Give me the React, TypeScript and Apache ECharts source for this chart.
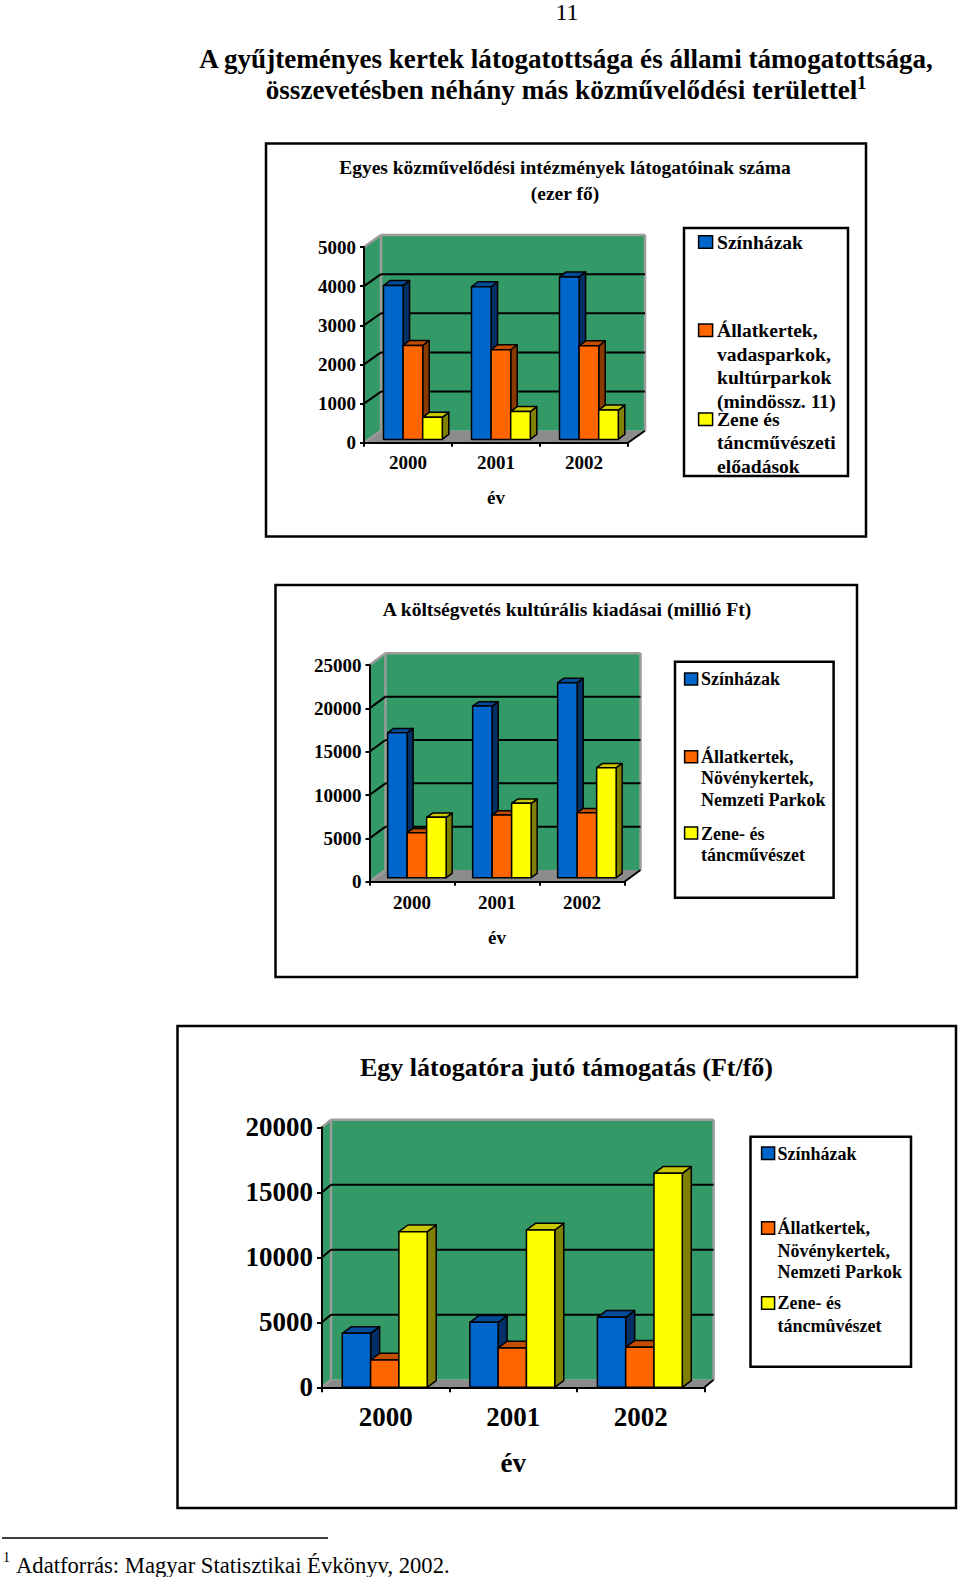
import React, { useEffect, useRef } from "react";
import * as echarts from "echarts";

const years = ["2000", "2001", "2002"];

const visitorsTheatres = [3930, 3900, 4150];
const visitorsZoos = [2400, 2290, 2390];
const visitorsMusic = [565, 710, 750];

const budgetTheatres = [16730, 19800, 22500];
const budgetZoos = [5190, 7230, 7500];
const budgetMusic = [6960, 8580, 12690];

const perVisitorTheatres = [4150, 5000, 5385];
const perVisitorZoos = [2100, 3030, 3080];
const perVisitorMusic = [11970, 12100, 16460];

const legend1 = [["Színházak"], ["Állatkertek,", "vadasparkok,", "kultúrparkok", "(mindössz. 11)"], ["Zene és", "táncművészeti", "előadások"]];
const legend2 = [["Színházak"], ["Állatkertek,", "Növénykertek,", "Nemzeti Parkok"], ["Zene- és", "táncművészet"]];
const legend3 = [["Színházak"], ["Állatkertek,", "Növénykertek,", "Nemzeti Parkok"], ["Zene- és", "táncmûvészet"]];

const SERIF = "Liberation Serif";
const FRONT = ["#0066cc", "#ff6600", "#ffff00"];
const TOP = ["#004c99", "#c24e00", "#c8c800"];
const SIDE = ["#003066", "#8a3a00", "#808000"];
const GREEN = "#339966";
const GRAY = "#8c8c8c";
const EDGE = "#9c9c9c";

const charts = [
  {
    box: [266, 143.5, 600, 393], title: "Egyes közművelődési intézmények látogatóinak száma\n(ezer fő)",
    titleX: 565, titleY: 154, titleSize: 19.5, titleLH: 26,
    grid: [364, 247, 264, 195.7], max: 5000, step: 1000, depth: [17, 12], shift: [4.9, 3.3], barW: 19.6, barD: [6.5, 5],
    axisSize: 19, labelGap: 10, nameGap: 45, tick: 4, lw: 2,
    values: [visitorsTheatres, visitorsZoos, visitorsMusic],
    legendBox: [684, 228, 164, 248], legendText: legend1, legendX: 717, legendSize: 19.6, swatchX: 698.6, swatchS: [14, 12.5],
    swatchY: [235.7, 324, 413], lineY: [[242], [330.5, 354.5, 377.5, 401.5], [419, 442.5, 466]],
  },
  {
    box: [275.5, 585, 581.5, 392], title: "A költségvetés kultúrális kiadásai (millió Ft)",
    titleX: 567, titleY: 597, titleSize: 19.6, titleLH: 24,
    grid: [369.5, 665, 255, 216.7], max: 25000, step: 5000, depth: [16, 11.7], shift: [4.9, 4], barW: 19.5, barD: [6, 4.3],
    axisSize: 19, labelGap: 11, nameGap: 46, tick: 4, lw: 2,
    values: [budgetTheatres, budgetZoos, budgetMusic],
    legendBox: [675, 661.7, 158.6, 236], legendText: legend2, legendX: 701, legendSize: 18, swatchX: 684.6, swatchS: [13, 12],
    swatchY: [673, 750.7, 827], lineY: [[679], [756.7, 778, 800], [834, 855]],
  },
  {
    box: [177.5, 1026, 778.5, 482], title: "Egy látogatóra jutó támogatás (Ft/fő)",
    titleX: 566.5, titleY: 1052, titleSize: 26, titleLH: 30,
    grid: [322, 1127.3, 382.6, 260], max: 20000, step: 5000, depth: [9, 7.5], shift: [-1, 0], barW: 28.3, barD: [9, 6.7],
    axisSize: 27, labelGap: 16, nameGap: 62, tick: 5, lw: 2,
    values: [perVisitorTheatres, perVisitorZoos, perVisitorMusic],
    legendBox: [750.5, 1136.7, 160.5, 230], legendText: legend3, legendX: 777.5, legendSize: 18, swatchX: 761.6, swatchS: [13, 12.5],
    swatchY: [1147, 1221.7, 1296.7], lineY: [[1154], [1228, 1250.7, 1272], [1303, 1326]],
  },
];

const poly = (points: number[][], fill: string, stroke?: string, lineWidth = 0) => ({
  type: "polygon",
  shape: { points },
  style: { fill, stroke: stroke || "none", lineWidth, lineJoin: "round" },
});
const seg = (a: number[], b: number[], stroke: string, lineWidth: number) => ({
  type: "line",
  shape: { x1: a[0], y1: a[1], x2: b[0], y2: b[1] },
  style: { stroke, lineWidth, fill: "none" },
});

function buildOption() {
  const graphic: any[] = [];
  const title: any[] = [];
  const grid: any[] = [];
  const xAxis: any[] = [];
  const yAxis: any[] = [];
  const series: any[] = [];

  const txt = (text: string, x: number, y: number, size: number, weight: string, align = "left") => ({
    type: "text",
    x,
    y,
    z: 5,
    style: { text, fontFamily: SERIF, fontSize: size, fontWeight: weight, fill: "#000", textAlign: align, textVerticalAlign: "middle" },
  });

  graphic.push(txt("11", 567, 12, 24, "normal", "center"));
  graphic.push(txt("A gyűjteményes kertek látogatottsága és állami támogatottsága,", 566, 59, 27.1, "bold", "center"));
  graphic.push(txt("összevetésben néhány más közművelődési területtel", 561.5, 90, 27.1, "bold", "center"));
  graphic.push(txt("1", 857, 82, 19, "bold"));
  graphic.push({ type: "line", z: 5, shape: { x1: 2, y1: 1538, x2: 328, y2: 1538 }, style: { stroke: "#000", lineWidth: 1.5 } });
  graphic.push(txt("1", 3, 1557, 14, "normal"));
  graphic.push(txt("Adatforrás: Magyar Statisztikai Évkönyv, 2002.", 16, 1565, 22.65, "normal"));

  charts.forEach((c, ci) => {
    const [gx, gy, gw, gh] = c.grid;
    const [dx, dy] = c.depth;
    graphic.push({
      type: "rect", z: -1,
      shape: { x: c.box[0], y: c.box[1], width: c.box[2], height: c.box[3] },
      style: { fill: "#fff", stroke: "#000", lineWidth: 2.5 },
    });
    graphic.push({
      type: "rect", z: 1,
      shape: { x: c.legendBox[0], y: c.legendBox[1], width: c.legendBox[2], height: c.legendBox[3] },
      style: { fill: "none", stroke: "#000", lineWidth: 2.5 },
    });
    c.legendText.forEach((lines, li) => {
      graphic.push({
        type: "rect", z: 2,
        shape: { x: c.swatchX, y: c.swatchY[li], width: c.swatchS[0], height: c.swatchS[1] },
        style: { fill: FRONT[li], stroke: "#000", lineWidth: 1.5 },
      });
      lines.forEach((line, k) => graphic.push(txt(line, c.legendX, c.lineY[li][k], c.legendSize, "bold")));
    });

    title.push({
      text: c.title,
      left: c.titleX,
      top: c.titleY,
      textAlign: "center",
      padding: 0,
      textStyle: { fontFamily: SERIF, fontSize: c.titleSize, fontWeight: "bold", color: "#000", lineHeight: c.titleLH },
    });

    grid.push({ left: gx, top: gy, width: gw, height: gh, containLabel: false, show: false });
    xAxis.push({
      type: "category",
      gridIndex: ci,
      data: years,
      z: 3,
      name: "év",
      nameLocation: "middle",
      nameGap: c.nameGap,
      nameTextStyle: { fontFamily: SERIF, fontWeight: "bold", fontSize: c.axisSize, color: "#000" },
      axisLine: { lineStyle: { color: "#000", width: c.lw } },
      axisTick: { show: true, alignWithLabel: false, length: c.tick, lineStyle: { color: "#000", width: c.lw } },
      axisLabel: { margin: c.labelGap, fontFamily: SERIF, fontWeight: "bold", fontSize: c.axisSize, color: "#000" },
      splitLine: { show: false },
    });
    yAxis.push({
      type: "value",
      gridIndex: ci,
      min: 0,
      max: c.max,
      interval: c.step,
      z: 3,
      axisLine: { show: true, lineStyle: { color: "#000", width: c.lw } },
      axisTick: { show: true, length: c.tick, lineStyle: { color: "#000", width: c.lw } },
      axisLabel: { margin: c.tick + 4, formatter: (v: number) => String(v), fontFamily: SERIF, fontWeight: "bold", fontSize: c.axisSize, color: "#000" },
      splitLine: { show: false },
    });

    // walls, floor and the gridlines, one data item per axis tick
    const ticks: number[] = [];
    for (let v = 0; v <= c.max; v += c.step) ticks.push(v);
    series.push({
      type: "custom",
      name: "walls" + ci,
      silent: true,
      z: 1,
      xAxisIndex: ci,
      yAxisIndex: ci,
      data: ticks.map((v) => [0, v]),
      encode: { x: 0, y: 1 },
      renderItem: (params: any, api: any) => {
        const v = api.value(1);
        const y = api.coord([0, v])[1];
        const cs = params.coordSys;
        const l = cs.x, r = cs.x + cs.width, t = cs.y, b = cs.y + cs.height;
        const children: any[] = [];
        if (v === 0) {
          children.push(poly([[l + dx, t - dy], [r + dx, t - dy], [r + dx, b - dy], [l + dx, b - dy]], GREEN));
          children.push(poly([[l, t], [l + dx, t - dy], [l + dx, b - dy], [l, b]], GREEN));
          children.push(poly([[l, b], [l + dx, b - dy], [r + dx, b - dy], [r, b]], GRAY));
          children.push(seg([l + dx, b - dy], [l + dx, t - dy], EDGE, 2.5));
          children.push(seg([l, t], [l + dx, t - dy], EDGE, 2.5));
          children.push(seg([l + dx, t - dy], [r + dx, t - dy], EDGE, 2.5));
          children.push(seg([r + dx, t - dy], [r + dx, b - dy], EDGE, 2.5));
          children.push(seg([l, b], [l + dx, b - dy], EDGE, 2.5));
          children.push(seg([r, b], [r + dx, b - dy], "#000", 2));
        } else if (v < c.max) {
          children.push(seg([l, y], [l + dx, y - dy], "#000", 2));
          children.push(seg([l + dx, y - dy], [r + dx, y - dy], "#000", 2));
        }
        return { type: "group", children };
      },
    });

    // one custom series per row of the legend, drawn as a 3D column
    c.values.forEach((vals, si) => {
      series.push({
        type: "custom",
        name: c.legendText[si].join(" "),
        z: 2,
        silent: true,
        xAxisIndex: ci,
        yAxisIndex: ci,
        data: vals.map((v, i) => [i, v]),
        encode: { x: 0, y: 1 },
        renderItem: (_p: any, api: any) => {
          const cat = api.value(0);
          const pt = api.coord([cat, api.value(1)]);
          const base = api.coord([cat, 0])[1];
          const x0 = pt[0] + c.shift[0] + (si - 1.5) * c.barW;
          const x1 = x0 + c.barW;
          const yt = pt[1] - c.shift[1];
          const yb = base - c.shift[1];
          const [bx, by] = c.barD;
          return {
            type: "group",
            children: [
              poly([[x1, yt], [x1 + bx, yt - by], [x1 + bx, yb - by], [x1, yb]], SIDE[si], "#000", 1.5),
              poly([[x0, yt], [x0 + bx, yt - by], [x1 + bx, yt - by], [x1, yt]], TOP[si], "#000", 1.5),
              poly([[x0, yt], [x1, yt], [x1, yb], [x0, yb]], FRONT[si], "#000", 1.5),
            ],
          };
        },
      });
    });
  });

  return { animation: false, backgroundColor: "#fff", title, grid, xAxis, yAxis, series, graphic };
}

export default function App() {
  const ref = useRef<HTMLDivElement>(null);
  useEffect(() => {
    const chart = echarts.init(ref.current!, undefined, { renderer: "svg" });
    chart.setOption(buildOption() as any);
    return () => chart.dispose();
  }, []);
  return <div ref={ref} style={{ position: "absolute", left: 0, top: 0, width: 960, height: 1577 }} />;
}
